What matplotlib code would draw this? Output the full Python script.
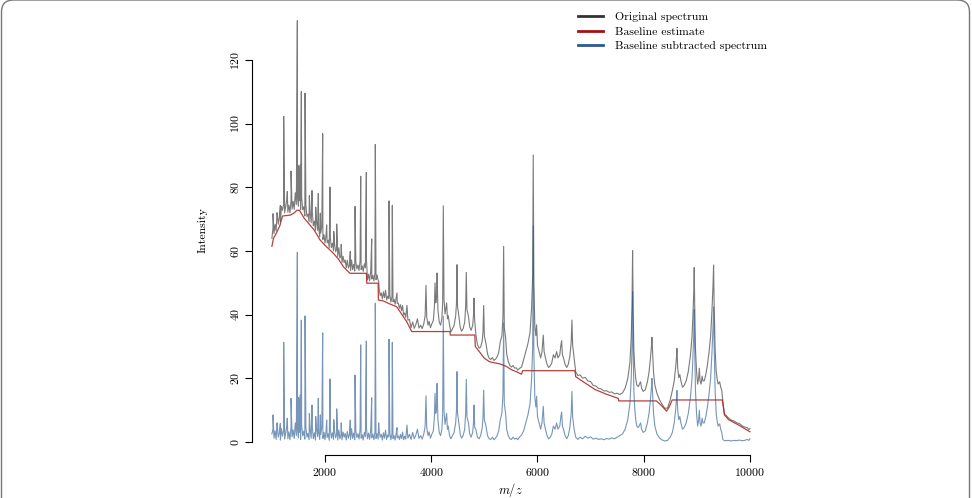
import numpy as np
import matplotlib
matplotlib.use('Agg')
import matplotlib.pyplot as plt
from matplotlib.lines import Line2D
from matplotlib.patches import FancyBboxPatch
from matplotlib.transforms import IdentityTransform

plt.rcParams['font.family'] = 'cmr10'
plt.rcParams['mathtext.fontset'] = 'cm'
plt.rcParams['axes.formatter.use_mathtext'] = True

# baseline estimate (m/z, intensity)
base_mz = [1000, 1030, 1080, 1150, 1200, 1350, 1420, 1470, 1520, 1600, 1700, 1800,
           1906, 2000, 2157, 2250, 2350, 2450, 2471, 2780, 2785, 3000, 3005, 3100,
           3200, 3349, 3450, 3538, 3632, 4353, 4360, 4820, 4830, 4900, 5000, 5100,
           5300, 5420, 5500, 5600, 5700, 5720, 6705, 6720, 6810, 7082, 7300, 7521,
           7530, 8240, 8330, 8430, 8480, 8537, 9480, 9520, 9600, 9800, 10000]
base_y = [61.5, 64, 65.5, 68, 71, 71.3, 72, 72.8, 72.8, 70.5, 68.5, 66.5,
          63.5, 61.8, 59.3, 57.5, 55, 53.3, 53, 53, 49.9, 49.9, 44.6, 44.3,
          43.5, 42.5, 40, 37.8, 34.7, 34.7, 33.6, 33.6, 30, 28.5, 26.3, 25.2,
          24.5, 23.7, 22.8, 22.1, 21.3, 22.4, 22.4, 20.5, 19.5, 16.5, 15, 13.7,
          12.9, 12.9, 11.5, 9.7, 11, 13.2, 13.2, 8.5, 7, 5.2, 3.2]

# baseline subtracted spectrum, low mass part: background every 20 m/z + sharp peaks
low_mz = np.arange(1000, 3501, 20)
low_noise = [2.5, 4.0, 1.2, 3.5, 0.8, 5.5, 1.5, 3.0, 0.6, 4.2,
             1.8, 3.6, 0.9, 2.8, 5.0, 1.0, 3.2, 0.7, 4.5, 1.6,
             3.8, 1.1, 6.0, 2.0, 4.4, 1.3, 3.0, 0.8, 5.2, 1.9,
             3.4, 0.9, 4.6, 1.5, 2.7, 0.7, 3.9, 1.2, 5.1, 1.0,
             2.9, 0.6, 4.0, 1.7, 3.3, 0.8, 2.4, 4.8, 1.1, 3.0,
             0.7, 3.6, 1.4, 2.6, 0.5, 4.1, 1.2, 2.9, 0.8, 3.4,
             1.3, 2.5, 0.6, 3.8, 1.0, 2.2, 0.7, 3.1, 1.5, 2.7,
             0.6, 3.3, 1.2, 2.4, 0.8, 4.2, 1.1, 2.8, 0.7, 3.5,
             1.4, 2.6, 0.9, 3.9, 1.2, 2.3, 0.6, 3.0, 1.7, 4.4,
             1.0, 2.8, 0.8, 3.6, 1.3, 2.5, 0.7, 3.2, 1.1, 2.6,
             0.9, 3.4, 1.5, 2.4, 0.6, 2.9, 1.2, 3.7, 0.8, 2.2,
             1.6, 3.0, 0.7, 2.5, 1.1, 2.0, 0.6, 2.7, 1.3, 1.9,
             0.8, 2.4, 1.0, 3.1, 0.7, 1.8]
low_peak_mz = [1021, 1096, 1159, 1222, 1290, 1360, 1467, 1479, 1503, 1535, 1554, 1624,
               1705, 1755, 1825, 1874, 1912, 1956, 2031, 2094, 2165, 2220, 2305, 2476,
               2565, 2672, 2778, 2879, 2947, 3010, 3205, 3267, 3355]
low_peak_h = [8.5, 6.0, 5.8, 31.3, 7.5, 13.7, 20.7, 59.6, 14.0, 14.8, 38.3, 39.6,
              9.0, 11.6, 8.0, 13.7, 8.5, 34.3, 6.9, 19.8, 7.0, 10.4, 6.0, 6.9,
              21.0, 30.5, 31.7, 13.9, 43.6, 6.0, 32.3, 31.3, 4.5]

# mid mass part (m/z, intensity)
mid_pts = [(3520, 0.9), (3543, 5.3), (3560, 1.2), (3590, 2.4), (3620, 0.8), (3650, 3.0),
           (3680, 1.0), (3710, 2.2), (3740, 4.0), (3770, 1.1), (3800, 2.0), (3830, 0.9),
           (3860, 2.5), (3885, 5.0), (3901, 14.5), (3915, 4.5), (3940, 2.0), (3960, 3.2),
           (3985, 1.2), (4010, 2.4), (4040, 3.5), (4060, 8.0), (4071, 15.3), (4085, 9.0),
           (4100, 11.0), (4110, 18.4), (4125, 7.0), (4150, 3.0), (4175, 2.0), (4200, 4.0),
           (4215, 9.0), (4227, 39.5), (4240, 10.0), (4260, 5.5), (4290, 9.0), (4305, 4.0),
           (4320, 5.0), (4345, 2.0), (4370, 1.0), (4400, 2.0), (4430, 3.0), (4460, 6.0),
           (4475, 10.0), (4484, 22.1), (4495, 9.0), (4520, 6.0), (4545, 2.5), (4570, 1.2),
           (4600, 2.0), (4630, 4.0), (4648, 9.0), (4660, 19.7), (4672, 8.0), (4700, 6.0),
           (4725, 2.5), (4750, 1.5), (4780, 3.0), (4795, 6.0), (4805, 11.6), (4818, 4.5),
           (4840, 4.0), (4870, 1.5), (4900, 1.0), (4930, 2.0), (4960, 4.5), (4975, 8.0),
           (4987, 16.3), (5000, 7.0), (5030, 5.0), (5060, 2.0), (5090, 1.0), (5120, 0.8),
           (5150, 1.5), (5180, 0.7), (5210, 1.2), (5240, 2.0), (5270, 3.5), (5300, 7.0),
           (5330, 9.0), (5350, 15.0), (5363, 37.4), (5375, 12.0), (5400, 9.0), (5420, 4.0),
           (5450, 2.0), (5480, 1.0), (5510, 0.8), (5540, 1.5), (5570, 0.9), (5600, 1.2),
           (5630, 0.7), (5660, 1.5), (5700, 2.2), (5740, 3.5), (5780, 6.0), (5820, 8.5),
           (5860, 12.0), (5890, 20.0), (5910, 30.0), (5920, 67.8), (5932, 28.0), (5950, 14.0),
           (5970, 11.0), (5984, 14.4), (6000, 8.0), (6030, 6.0), (6060, 4.0), (6085, 6.0),
           (6100, 9.0), (6109, 11.2), (6125, 6.0), (6150, 4.0), (6180, 2.0), (6210, 1.0),
           (6240, 1.5), (6270, 2.5), (6300, 5.0), (6330, 4.0), (6361, 6.0), (6385, 4.0),
           (6420, 5.0), (6440, 8.0), (6455, 9.4), (6470, 5.0), (6490, 4.0), (6520, 2.0),
           (6550, 1.0), (6580, 2.0), (6610, 4.5), (6635, 9.0), (6649, 15.9), (6662, 8.0),
           (6690, 4.0), (6720, 1.5), (6760, 0.8), (6800, 1.5), (6850, 1.0), (6900, 1.8),
           (6950, 1.2), (7000, 1.6)]

# high mass part (m/z, intensity)
high_pts = [(7050, 0.9), (7100, 1.2), (7150, 0.8), (7200, 1.0), (7250, 0.7), (7300, 1.1),
            (7350, 0.9), (7400, 1.3), (7450, 1.0), (7500, 1.5), (7550, 2.0), (7600, 2.5),
            (7650, 4.0), (7700, 7.0), (7740, 12.0), (7765, 20.0), (7780, 30.0), (7791, 47.2),
            (7802, 28.0), (7815, 16.0), (7830, 10.8), (7850, 7.0), (7870, 5.0), (7900, 4.5),
            (7925, 5.5), (7942, 6.0), (7960, 4.0), (7990, 3.0), (8030, 3.5), (8070, 6.0),
            (8100, 9.0), (8125, 13.0), (8145, 17.0), (8155, 20.0), (8168, 15.0), (8185, 9.0),
            (8210, 5.0), (8250, 2.5), (8300, 1.2), (8350, 0.6), (8400, 0.3), (8450, 0.5),
            (8500, 1.5), (8540, 3.0), (8575, 6.0), (8600, 10.0), (8615, 13.0), (8626, 16.2),
            (8640, 10.0), (8660, 7.0), (8680, 8.0), (8700, 6.0), (8730, 4.0), (8760, 4.5),
            (8800, 6.0), (8840, 9.0), (8880, 14.0), (8910, 20.0), (8930, 28.0), (8945, 35.0),
            (8951, 41.6), (8960, 30.0), (8975, 16.0), (8995, 9.0), (9015, 5.0), (9035, 7.0),
            (9048, 10.0), (9060, 6.0), (9080, 5.0), (9100, 7.5), (9115, 6.0), (9140, 6.0),
            (9170, 8.0), (9200, 11.0), (9230, 15.0), (9260, 20.0), (9285, 28.0), (9305, 36.0),
            (9316, 42.4), (9326, 30.0), (9345, 16.0), (9365, 9.0), (9380, 7.0), (9400, 5.0),
            (9430, 5.7), (9450, 4.0), (9470, 3.0), (9490, 0.8), (9520, 0.4), (9600, 0.5),
            (9650, 0.3), (9700, 0.5), (9750, 0.4), (9800, 0.6), (9850, 0.4), (9900, 0.5),
            (9950, 0.8), (9980, 0.5), (10000, 1.0)]

labels = ['Original spectrum', 'Baseline estimate', 'Baseline subtracted spectrum']

# put the subtracted spectrum together and add the baseline back
mz = np.concatenate([low_mz, low_peak_mz, [p[0] for p in mid_pts], [p[0] for p in high_pts]])
sub = np.concatenate([low_noise, low_peak_h, [p[1] for p in mid_pts], [p[1] for p in high_pts]])
order = np.argsort(mz, kind='stable')
mz = mz[order]
sub = sub[order]
orig = sub + np.interp(mz, base_mz, base_y)

fig = plt.figure(figsize=(9.72, 4.98), dpi=100)
ax = fig.add_axes([0.2593, 0.0863, 0.5319, 0.9036])

ax.plot(mz, orig, color='#222222', lw=0.8, alpha=0.6)
ax.plot(base_mz, base_y, color='#a8201a', lw=0.9, alpha=0.85)
ax.plot(mz, sub, color='#1c4f8a', lw=0.8, alpha=0.6)

ax.set_xlim(626, 10360)
ax.set_ylim(-4.1, 137.3)
ax.set_xticks([2000, 4000, 6000, 8000, 10000])
ax.set_yticks([0, 20, 40, 60, 80, 100, 120])
ax.spines['top'].set_visible(False)
ax.spines['right'].set_visible(False)
ax.spines['left'].set_bounds(0, 120)
ax.spines['bottom'].set_bounds(2000, 10000)
ax.tick_params(direction='out', length=5, width=0.8, labelsize=8.5, pad=3)
ax.tick_params(axis='y', labelrotation=90)
plt.setp(ax.get_yticklabels(), va='center')

ax.set_ylabel('Intensity', fontsize=8.5, labelpad=15)
ax.set_xlabel('$m/z$', fontsize=9, labelpad=2)

handles = [Line2D([], [], color='#333333', lw=2),
           Line2D([], [], color='#a50f15', lw=2),
           Line2D([], [], color='#2c5b93', lw=2)]
ax.legend(handles, labels, loc='upper left', bbox_to_anchor=(578 / 972, 1 - 12 / 498),
          bbox_transform=fig.transFigure, frameon=False, borderpad=0, borderaxespad=0,
          handlelength=2.1, handletextpad=1.0, labelspacing=0.35, fontsize=8.5)

# rounded panel border
frame = FancyBboxPatch((1.5, -40), 968, 538, boxstyle='round,pad=0,rounding_size=12',
                       transform=IdentityTransform(), fill=False, ec='#777777', lw=1)
fig.patches.append(frame)

fig.savefig('out.png', dpi=100)
